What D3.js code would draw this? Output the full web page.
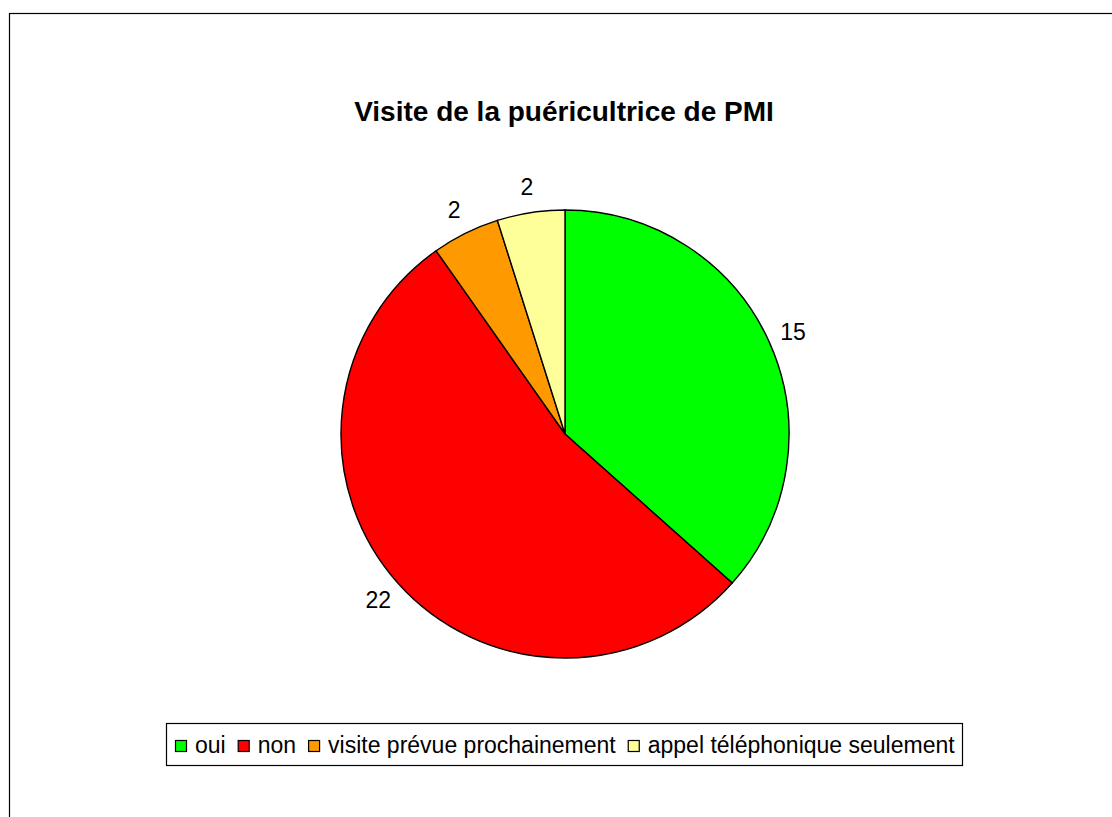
<!DOCTYPE html>
<html>
<head>
<meta charset="utf-8">
<script src="https://cdn.jsdelivr.net/npm/d3@7"></script>
<style>
  body { margin: 0; background: #fff; }
  svg { display: block; font-family: "Liberation Sans", Arial, sans-serif; }
</style>
</head>
<body>
<div id="wrapper"></div>
<script>
// # Data
const categories = ["oui", "non", "visite prévue prochainement", "appel téléphonique seulement"];
const values = [15, 22, 2, 2];
const colors = ["#00ff00", "#ff0000", "#ff9900", "#ffff99"];
const title = "Visite de la puéricultrice de PMI";

// # Dimensions
const width = 1112;
const height = 817;
const center = { x: 565, y: 434 };
const radius = 224;
const labelRadius = 250;

const svg = d3.select("#wrapper")
  .append("svg")
  .attr("width", width)
  .attr("height", height);

// chart border (runs past the right / bottom edge)
svg.append("rect")
  .attr("x", 9.5)
  .attr("y", 13.5)
  .attr("width", width + 20)
  .attr("height", height + 20)
  .attr("fill", "#fff")
  .attr("stroke", "#000")
  .attr("stroke-width", 1.2);

svg.append("text")
  .attr("x", 564)
  .attr("y", 121)
  .attr("text-anchor", "middle")
  .style("font-size", "28px")
  .style("font-weight", "bold")
  .text(title);

// # Pie
const data = categories.map((c, i) => ({ name: c, value: values[i], color: colors[i] }));

const pie = d3.pie()
  .value(d => d.value)
  .sort(null);

const arc = d3.arc().innerRadius(0).outerRadius(radius);
const labelArc = d3.arc().innerRadius(labelRadius).outerRadius(labelRadius);

const arcs = pie(data);

const pieGroup = svg.append("g")
  .attr("transform", `translate(${center.x},${center.y})`);

pieGroup.selectAll("path")
  .data(arcs)
  .join("path")
  .attr("d", arc)
  .attr("fill", d => d.data.color)
  .attr("stroke", "#000")
  .attr("stroke-width", 1.4);

pieGroup.selectAll("text")
  .data(arcs)
  .join("text")
  .attr("transform", d => `translate(${labelArc.centroid(d)})`)
  .attr("text-anchor", "middle")
  .attr("dy", "0.35em")
  .style("font-size", "23px")
  .text(d => d.data.value);

// # Legend
const legend = svg.append("g");
legend.append("rect")
  .attr("x", 166.5)
  .attr("y", 723.5)
  .attr("width", 796)
  .attr("height", 42)
  .attr("fill", "#fff")
  .attr("stroke", "#000")
  .attr("stroke-width", 1.2);

let lx = 175;
data.forEach(d => {
  const item = legend.append("g").attr("transform", `translate(${lx},0)`);
  item.append("rect")
    .attr("x", 0.5)
    .attr("y", 740.5)
    .attr("width", 11)
    .attr("height", 11)
    .attr("fill", d.color)
    .attr("stroke", "#000")
    .attr("stroke-width", 1.2);
  const t = item.append("text")
    .attr("x", 20)
    .attr("y", 753)
    .style("font-size", "23px")
    .text(d.name);
  lx += 20 + t.node().getComputedTextLength() + 12;
});
</script>
</body>
</html>
